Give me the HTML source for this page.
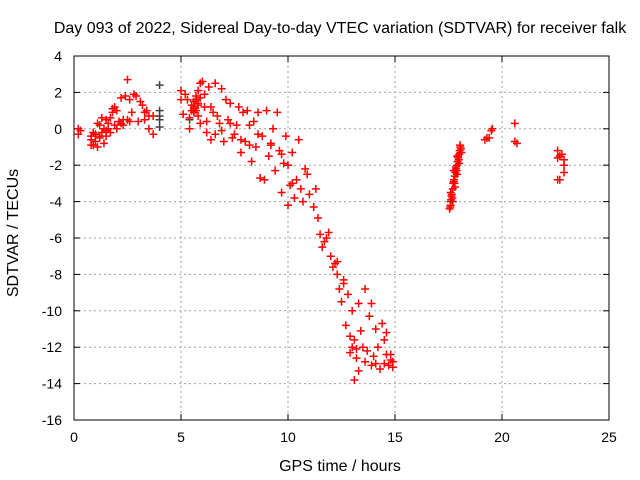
<!DOCTYPE html>
<html><head><meta charset="utf-8"><style>
body{margin:0;background:#fff;}
svg{display:block;font-family:"Liberation Sans",sans-serif;}
</style></head><body>
<svg id="chart" width="640" height="480">
<text x="340" y="33" font-size="16" text-anchor="middle">Day 093 of 2022, Sidereal Day-to-day VTEC variation (SDTVAR) for receiver falk</text>
<text x="340" y="471" font-size="16" text-anchor="middle">GPS time / hours</text>
<text transform="translate(18,233) rotate(-90)" font-size="16" text-anchor="middle">SDTVAR / TECUs</text>
<g id="grid"></g><g id="ticks"></g><g id="marks"></g>
<rect x="74" y="56" width="535" height="364" fill="none" stroke="#000" stroke-width="1"/>
</svg>
<script>
const xTicks=[0,5,10,15,20,25];
const yTicks=[4,2,0,-2,-4,-6,-8,-10,-12,-14,-16];
const redX=[0.2,0.2,0.3,0.8,0.8,0.9,1.0,1.0,1.1,1.2,1.2,1.3,1.4,1.4,1.5,1.5,1.6,1.7,1.7,1.8,1.9,1.9,2.0,2.1,2.2,2.3,2.4,2.5,2.6,2.6,2.7,2.8,2.9,3.0,3.1,3.2,3.3,3.4,3.5,3.5,3.7,3.7,2.0,2.3,1.6,1.1,0.9,1.3,1.5,1.8,2.2,2.5,3.3,0.8,1.2,
5.0,5.0,5.1,5.2,5.3,5.4,5.4,5.5,5.6,5.6,5.7,5.8,5.8,5.9,5.9,6.0,6.1,6.2,6.2,6.3,6.4,6.4,6.5,6.6,6.6,6.7,6.8,6.9,7.0,7.1,7.2,7.3,7.4,7.5,7.6,7.7,7.8,7.9,8.0,8.1,8.2,8.3,8.4,8.5,8.6,8.7,8.8,8.9,9.0,9.1,9.2,9.3,9.4,9.5,9.6,9.7,9.8,9.9,10.0,10.0,10.1,10.2,10.3,10.4,10.5,10.6,10.7,10.8,11.0,11.3,11.4,11.5,11.6,11.8,11.9,12.0,12.2,12.3,12.4,12.5,12.6,12.7,12.8,12.9,13.0,13.0,13.1,13.2,13.3,13.4,13.5,13.6,13.7,13.8,13.9,14.0,14.1,14.2,14.3,14.4,14.5,14.6,14.7,14.8,14.9,14.5,13.3,12.9,13.9,5.7,5.8,5.9,5.6,5.5,5.6,5.7,5.8,6.1,6.9,7.3,7.8,8.2,8.6,9.2,9.7,10.2,10.9,11.2,11.7,12.1,12.6,13.1,13.6,14.1,14.6,14.9,12.3,13.2,14.8,
17.55,17.6,17.62,17.65,17.7,17.72,17.75,17.8,17.82,17.85,17.9,17.92,17.95,18.0,18.02,18.05,17.7,17.8,17.9,18.0,18.1,17.6,17.75,17.9,17.58,17.68,17.78,17.88,17.98,18.08,17.64,17.74,17.84,17.94,18.04,
19.2,19.4,19.5,19.55,19.3,20.6,20.6,20.7,22.6,22.6,22.7,22.8,22.9,22.9,22.9,22.6,22.7];
const redY=[0.0,-0.3,-0.1,-0.4,-0.6,-0.9,-0.3,-0.7,-1.0,-0.5,0.2,-0.2,0.0,-0.8,0.5,-0.4,0.3,0.6,-0.2,0.9,1.2,0.2,1.0,0.4,1.7,0.5,1.8,2.7,1.6,0.4,0.9,1.9,1.8,0.4,1.5,1.3,0.5,1.0,0.0,0.7,0.7,-0.3,0.0,0.2,0.0,0.3,-0.2,0.6,-0.1,1.1,0.3,0.5,0.9,-0.9,-0.4,
2.1,1.6,0.8,1.9,1.6,0.6,0.0,1.0,1.2,1.5,1.8,2.1,1.3,2.5,0.3,2.6,1.9,-0.2,0.4,2.3,-0.6,1.2,0.9,2.5,-0.3,0.7,0.3,2.2,-0.7,1.6,0.5,1.4,-0.5,-0.3,0.2,1.2,-1.3,0.9,-0.7,1.0,-0.9,-1.8,0.4,-1.0,0.9,-2.7,-0.4,-2.8,1.0,-1.5,-0.8,0.0,-2.3,0.9,-1.2,-3.5,-1.9,-0.4,-4.2,-2.0,-3.1,-1.3,-3.8,-2.8,-0.6,-3.3,-4.0,-2.2,-3.6,-3.3,-4.9,-5.8,-6.5,-6.0,-5.7,-7.0,-7.4,-8.0,-8.8,-9.5,-8.3,-10.8,-9.1,-11.4,-10.0,-12.0,-13.8,-12.6,-9.6,-11.1,-12.0,-8.8,-12.2,-10.3,-9.6,-12.5,-11.0,-12.0,-13.2,-10.7,-12.9,-11.2,-13.0,-12.4,-13.1,-11.6,-13.3,-12.3,-13.0,1.0,1.4,1.7,1.1,1.3,0.9,1.6,0.7,1.2,-0.1,0.3,-0.6,0.2,-0.3,-0.9,-1.4,-3.0,-2.5,-4.3,-6.2,-7.6,-8.5,-11.6,-12.8,-12.9,-12.4,-12.8,-7.3,-12.1,-12.7,
-4.4,-4.2,-3.9,-3.6,-3.3,-3.0,-2.8,-2.6,-2.4,-2.2,-2.0,-1.8,-1.6,-1.4,-1.2,-1.0,-4.0,-3.2,-2.5,-1.9,-1.3,-3.5,-2.3,-1.5,-4.3,-3.8,-3.0,-2.3,-1.7,-1.1,-3.7,-2.9,-2.1,-1.5,-0.9,
-0.6,-0.5,-0.1,0.0,-0.5,0.3,-0.7,-0.8,-1.2,-1.6,-2.8,-1.4,-1.7,-2.0,-2.4,-2.8,-1.5];
const grayX=[4.0,4.0,4.0,4.0,4.0,5.4,17.6];
const grayY=[2.4,1.0,0.7,0.5,0.1,0.5,-4.0];
const NS="http://www.w3.org/2000/svg";
const L=74,R=609,T=56,B=420;
const sx=v=>L+(v-0)/(25-0)*(R-L);
const sy=v=>T+(4-v)/(4-(-16))*(B-T);
function mk(tag,attrs,parent){const e=document.createElementNS(NS,tag);for(const k in attrs)e.setAttribute(k,attrs[k]);parent.appendChild(e);return e;}
const grid=document.getElementById('grid'),ticks=document.getElementById('ticks'),marks=document.getElementById('marks');
xTicks.forEach(v=>{const x=sx(v);
 if(v>0&&v<25){const g=mk('line',{x1:x,x2:x,y1:T,y2:B,stroke:'#a0a0a0','stroke-dasharray':'2,3'},grid);
 
 }
 mk('line',{x1:x,x2:x,y1:B,y2:B-6,stroke:'#000'},ticks);
 mk('line',{x1:x,x2:x,y1:T,y2:T+6,stroke:'#000'},ticks);
 const t=mk('text',{x:x,y:B+22,'font-size':14,'text-anchor':'middle'},ticks);t.textContent=v;
 
 });
yTicks.forEach(v=>{const y=sy(v);
 if(v<4&&v>-16){const g=mk('line',{x1:L,x2:R,y1:y,y2:y,stroke:'#a0a0a0','stroke-dasharray':'2,3'},grid);
 
 }
 mk('line',{x1:L,x2:L+6,y1:y,y2:y,stroke:'#000'},ticks);
 mk('line',{x1:R,x2:R-6,y1:y,y2:y,stroke:'#000'},ticks);
 const t=mk('text',{x:L-12,y:y+5,'font-size':14,'text-anchor':'end'},ticks);t.textContent=v;
 
 });
function plus(x,y,c,name){const p=mk('path',{d:`M${x-4},${y}H${x+4}M${x},${y-4}V${y+4}`,stroke:c,'stroke-width':1.5,fill:'none'},marks);
 
 }
grayX.forEach((v,i)=>plus(sx(v),sy(grayY[i]),'#404040','gray-point'));
redX.forEach((v,i)=>plus(sx(v),sy(redY[i]),'#ff0000','sdtvar-point'));
</script>
</body></html>
